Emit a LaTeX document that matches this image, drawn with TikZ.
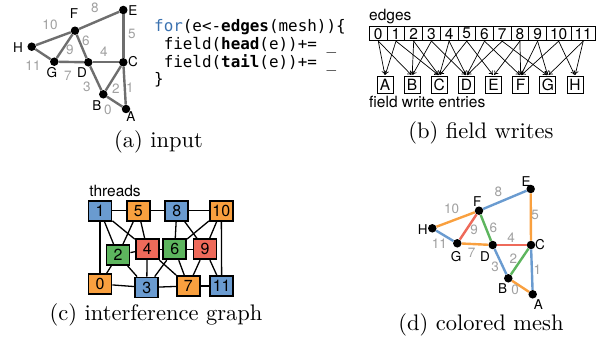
\documentclass[tikz,border=0pt]{standalone}
\usepackage{fontspec}
\setsansfont{TeX Gyre Heros}
\setmonofont{DejaVu Sans Mono}
\newfontfamily\capfont[Extension=.otf]{lmroman10-regular}
\usetikzlibrary{arrows.meta}
\definecolor{cblue}{HTML}{6A9BD0}
\definecolor{corange}{HTML}{F9A03F}
\definecolor{cgreen}{HTML}{5DB55E}
\definecolor{cred}{HTML}{EE6A5A}
\definecolor{meshgray}{HTML}{6E6E6E}
\definecolor{lblgray}{HTML}{A0A0A0}
\definecolor{kwblue}{HTML}{3B72B0}
\tikzset{
  dot/.style={circle,fill=black,inner sep=0pt,minimum size=8.5pt},
  meshedge/.style={line width=2.4pt,draw=meshgray},
  cedge/.style={line width=2.4pt},
  elbl/.style={text=lblgray,inner sep=0pt,font=\sffamily\fontsize{13.5}{14}\selectfont},
  vlbl/.style={inner sep=0pt,font=\sffamily\fontsize{13.5}{14}\selectfont},
  capt/.style={inner sep=0pt,font=\capfont\fontsize{22.5}{25}\selectfont},
  codeline/.style={anchor=base west,inner sep=0pt,font=\ttfamily\fontsize{15.9}{18}\selectfont},
  sflbl/.style={inner sep=0pt,font=\sffamily\fontsize{15.5}{16}\selectfont},
  ebox/.style={draw,line width=0.9pt,minimum height=14pt,inner sep=0pt,anchor=west,font=\sffamily\fontsize{15.5}{16}\selectfont},
  fbox/.style={draw,line width=0.9pt,minimum width=16pt,minimum height=17pt,inner sep=0pt,font=\sffamily\fontsize{15.5}{16}\selectfont},
  tbox/.style={draw,line width=1.8pt,minimum width=23pt,minimum height=20pt,inner sep=0pt,font=\sffamily\fontsize{16}{17}\selectfont},
  iedge/.style={line width=1.3pt},
  warrow/.style={-{To[length=4pt,width=5pt]},line width=0.7pt,shorten >=1pt},
}
\begin{document}
\begin{tikzpicture}[x=1pt,y=-1pt]
\useasboundingbox (0,0) rectangle (603,339);

% ---------- (a) input ----------
\node[dot] (aA) at (126,109) {};
\node[dot] (aB) at (103.3,94.3) {};
\node[dot] (aC) at (123.3,62.3) {};
\node[dot] (aD) at (88.3,62.3) {};
\node[dot] (aE) at (123.3,10) {};
\node[dot] (aF) at (75,30.7) {};
\node[dot] (aG) at (54.3,61.7) {};
\node[dot] (aH) at (31.7,46.7) {};
\draw[meshedge] (aB) -- (aA);
\draw[meshedge] (aC) -- (aA);
\draw[meshedge] (aB) -- (aC);
\draw[meshedge] (aD) -- (aB);
\draw[meshedge] (aD) -- (aC);
\draw[meshedge] (aC) -- (aE);
\draw[meshedge] (aF) -- (aD);
\draw[meshedge] (aG) -- (aD);
\draw[meshedge] (aF) -- (aE);
\draw[meshedge] (aG) -- (aF);
\draw[meshedge] (aH) -- (aF);
\draw[meshedge] (aH) -- (aG);
\node[vlbl] (laA) at (131,117) {A};
\node[vlbl] (laB) at (97,106) {B};
\node[vlbl] (laC) at (133,62) {C};
\node[vlbl] (laD) at (82,73) {D};
\node[vlbl] (laE) at (133,11) {E};
\node[vlbl] (laF) at (74,14) {F};
\node[vlbl] (laG) at (52,73) {G};
\node[vlbl] (laH) at (18,48) {H};
\node[elbl] (la0) at (108,110) {0};
\node[elbl] (la1) at (130,88) {1};
\node[elbl] (la2) at (116,89) {2};
\node[elbl] (la3) at (87,87) {3};
\node[elbl] (la4) at (104,52) {4};
\node[elbl] (la5) at (132,34) {5};
\node[elbl] (la6) at (86,41) {6};
\node[elbl] (la7) at (68,76) {7};
\node[elbl] (la8) at (95,8) {8};
\node[elbl] (la9) at (70,50) {9};
\node[elbl] (la10) at (50,25) {10};
\node[elbl] (la11) at (33,66) {11};

\node[codeline] (c1) at (154,32) {\textcolor{kwblue}{for}(e<-\textbf{edges}(mesh))\{};
\node[codeline] (c2) at (154,50) {\ field(\textbf{head}(e))+=\ \_};
\node[codeline] (c3) at (154,67.5) {\ field(\textbf{tail}(e))+=\ \_};
\node[codeline] (c4) at (154,85) {\}};
\node[capt] (capA) at (158.6,142) {(a) input};

% ---------- (b) field writes ----------
\node[sflbl,anchor=west] (edgesl) at (369,17) {edges};
\foreach \i in {0,...,9} {
  \node[ebox,minimum width=17.7pt] (e\i) at ({369+\i*17.7},33.7) {\i};
}
\node[ebox,minimum width=24.5pt] (e10) at (546,33.7) {10};
\node[ebox,minimum width=24.5pt] (e11) at (570.5,33.7) {11};
\foreach \n [count=\k from 0] in {A,B,C,D,E,F,G,H} {
  \node[fbox] (f\n) at ({385+\k*27.14},84.7) {\n};
}
\node[sflbl,anchor=west] (fwe) at (369,102) {field write entries};
\foreach \e/\u/\v in {0/A/B,1/A/C,2/B/C,3/B/D,4/C/D,5/C/E,6/D/F,7/D/G,8/E/F,9/F/G,10/F/H,11/G/H} {
  \draw[warrow] (e\e.south) -- (f\u.north);
  \draw[warrow] (e\e.south) -- (f\v.north);
}
\node[capt] (capB) at (481,133) {(b) field writes};

% ---------- (c) interference graph ----------
\node[sflbl] (thr) at (115,191) {threads};
\node[tbox,fill=cblue] (t1) at (100,210.7) {1};
\node[tbox,fill=corange] (t5) at (138.3,210.7) {5};
\node[tbox,fill=cblue] (t8) at (176.7,210.7) {8};
\node[tbox,fill=corange] (t10) at (221.3,210.7) {10};
\node[tbox,fill=cred] (t4) at (147.2,249.3) {4};
\node[tbox,fill=cgreen] (t6) at (174.7,249.3) {6};
\node[tbox,fill=cred] (t9) at (205,249.3) {9};
\node[tbox,fill=cgreen] (t2) at (118,255) {2};
\node[tbox,fill=corange] (t0) at (100,284) {0};
\node[tbox,fill=cblue] (t3) at (146.7,287.5) {3};
\node[tbox,fill=corange] (t7) at (188.3,286) {7};
\node[tbox,fill=cblue] (t11) at (221.7,286) {11};
\foreach \u/\v in {0/1,0/2,0/3,2/3,1/2,1/4,1/5,2/4,2/5,4/5,3/4,3/6,3/7,4/6,4/7,6/7,5/8,6/8,6/9,6/10,8/9,8/10,9/10,7/9,7/11,9/11,10/11} {
  \draw[iedge] (t\u) -- (t\v);
}
\node[capt] (capC) at (156,315) {(c) interference graph};

% ---------- (d) colored mesh ----------
\node[dot] (dA) at (532.7,294.3) {};
\node[dot] (dB) at (508.3,278.3) {};
\node[dot] (dC) at (531,245) {};
\node[dot] (dD) at (492.7,245) {};
\node[dot] (dE) at (530.7,189) {};
\node[dot] (dF) at (479,210.7) {};
\node[dot] (dG) at (457.3,243.3) {};
\node[dot] (dH) at (432.3,228.3) {};
\draw[cedge,corange] (dB) -- (dA);
\draw[cedge,cblue] (dC) -- (dA);
\draw[cedge,cgreen] (dB) -- (dC);
\draw[cedge,cblue] (dD) -- (dB);
\draw[cedge,cred] (dD) -- (dC);
\draw[cedge,corange] (dC) -- (dE);
\draw[cedge,cgreen] (dF) -- (dD);
\draw[cedge,corange] (dG) -- (dD);
\draw[cedge,cblue] (dF) -- (dE);
\draw[cedge,cred] (dG) -- (dF);
\draw[cedge,corange] (dH) -- (dF);
\draw[cedge,cblue] (dH) -- (dG);
\node[vlbl] (ldA) at (538.3,305) {A};
\node[vlbl] (ldB) at (502.7,288.3) {B};
\node[vlbl] (ldC) at (540,245) {C};
\node[vlbl] (ldD) at (485,256.7) {D};
\node[vlbl] (ldE) at (526,181.7) {E};
\node[vlbl] (ldF) at (477.3,201.7) {F};
\node[vlbl] (ldG) at (456,256.7) {G};
\node[vlbl] (ldH) at (422.7,230) {H};
\node[elbl] (ld0) at (515,290) {0};
\node[elbl] (ld1) at (537.3,269.3) {1};
\node[elbl] (ld2) at (513.3,258.3) {2};
\node[elbl] (ld3) at (495,266.7) {3};
\node[elbl] (ld4) at (511,237.7) {4};
\node[elbl] (ld5) at (535,215) {5};
\node[elbl] (ld6) at (493.3,228.3) {6};
\node[elbl] (ld7) at (471.7,253.3) {7};
\node[elbl] (ld8) at (498.3,191.7) {8};
\node[elbl] (ld9) at (474,230) {9};
\node[elbl] (ld10) at (451.7,209.3) {10};
\node[elbl] (ld11) at (439.3,243.3) {11};
\node[capt] (capD) at (481,325) {(d) colored mesh};
\end{tikzpicture}
\end{document}
